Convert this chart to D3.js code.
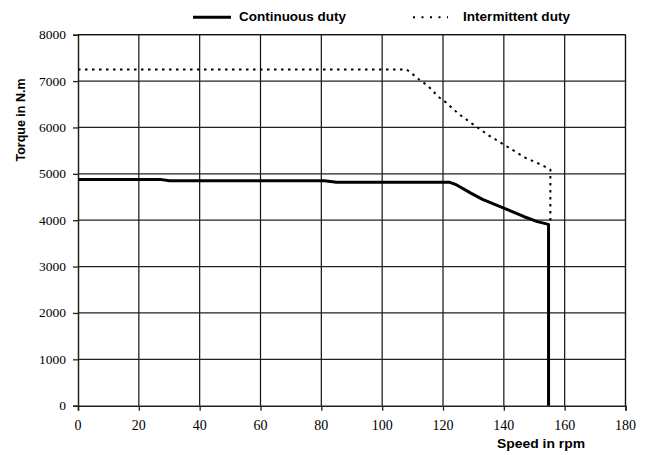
<!DOCTYPE html>
<html><head><meta charset="utf-8">
<script src="https://cdn.jsdelivr.net/npm/d3@7/dist/d3.min.js"></script>
<style>body{margin:0;background:#fff}svg{display:block}</style>
</head><body>
<svg id="c" width="648" height="455"></svg>
<script>
// Data
const xTicks = [0,20,40,60,80,100,120,140,160,180];
const yTicks = [0,1000,2000,3000,4000,5000,6000,7000,8000];
const continuousSpeed  = [0,27,30,81,85,122,124.5,129,133,140,146.5,151,154.7,154.7];
const continuousTorque = [4880,4880,4850,4850,4820,4820,4760,4590,4450,4260,4080,3970,3910,0];
const intermittentSpeed  = [0,108,110,112,115,118.5,121,125,130,135,140,142,147,152.5,155.3,155.3];
const intermittentTorque = [7250,7250,7150,7040,6900,6660,6540,6300,6060,5830,5630,5550,5350,5190,5090,3900];
const seriesNames = ["Continuous duty","Intermittent duty"];

const svg = d3.select("#c");
const L=78, R=625.5, T=34.7, B=405.7;
const x = d3.scaleLinear().domain([0,180]).range([L,R]);
const y = d3.scaleLinear().domain([0,8000]).range([B,T]);
const serif = "Liberation Serif";

// grid
svg.append("g").selectAll("line").data(xTicks.slice(1)).join("line")
  .attr("x1",d=>x(d)).attr("x2",d=>x(d)).attr("y1",T).attr("y2",B)
  .attr("stroke","#111").attr("stroke-width",1.2);
svg.append("g").selectAll("line").data(yTicks.slice(1)).join("line")
  .attr("x1",L).attr("x2",R).attr("y1",d=>y(d)).attr("y2",d=>y(d))
  .attr("stroke","#222").attr("stroke-width",1.3);

// axes (ticks + domain), labels drawn separately
const xAxis = svg.append("g").attr("transform",`translate(0,${B})`)
  .call(d3.axisBottom(x).tickValues(xTicks).tickSize(5).tickFormat(""));
const yAxis = svg.append("g").attr("transform",`translate(${L},0)`)
  .call(d3.axisLeft(y).tickValues(yTicks).tickSize(5).tickFormat(""));
[xAxis,yAxis].forEach(a=>{
  a.select(".domain").attr("stroke","#222").attr("stroke-width",1.5);
  a.selectAll(".tick line").attr("stroke","#222").attr("stroke-width",1.3);
});
svg.append("g").selectAll("text").data(xTicks).join("text")
  .attr("x",d=>x(d)).attr("y",430).attr("text-anchor","middle")
  .attr("font-family",serif).attr("font-size",14).attr("fill","#000")
  .text(d=>d3.format("d")(d));
svg.append("g").selectAll("text").data(yTicks).join("text")
  .attr("x",66).attr("y",d=>y(d)+4.5).attr("text-anchor","end")
  .attr("font-family",serif).attr("font-size",13.5).attr("fill","#000")
  .text(d=>d3.format("d")(d));

// right and top borders
svg.append("line").attr("x1",x(180)).attr("x2",x(180)).attr("y1",T).attr("y2",B).attr("stroke","#111").attr("stroke-width",1.2);
svg.append("line").attr("x1",L).attr("x2",R).attr("y1",T).attr("y2",T).attr("stroke","#111").attr("stroke-width",1.3);

// lines
const lineLin = d3.line().x(d=>x(d[0])).y(d=>y(d[1]));
const cont = continuousSpeed.map((s,i)=>[s,continuousTorque[i]]);
const inter = intermittentSpeed.map((s,i)=>[s,intermittentTorque[i]]);
svg.append("path").attr("d",lineLin(inter)).attr("fill","none").attr("stroke","#000")
  .attr("stroke-width",2).attr("stroke-dasharray","2.5,4.5");
svg.append("path").attr("d",lineLin(cont)).attr("fill","none").attr("stroke","#000")
  .attr("stroke-width",3).attr("stroke-linejoin","round");

// legend
const lf = "Liberation Sans";
svg.append("line").attr("x1",193).attr("x2",231).attr("y1",17.3).attr("y2",17.3).attr("stroke","#000").attr("stroke-width",3);
svg.append("text").attr("x",239).attr("y",21).text(seriesNames[0])
  .attr("font-family",lf).attr("font-weight","bold").attr("font-size",12.5).attr("textLength",107).attr("lengthAdjust","spacingAndGlyphs");
svg.append("line").attr("x1",413).attr("x2",448).attr("y1",17.3).attr("y2",17.3).attr("stroke","#000").attr("stroke-width",2).attr("stroke-dasharray","2,6.5");
svg.append("text").attr("x",463).attr("y",21).text(seriesNames[1])
  .attr("font-family",lf).attr("font-weight","bold").attr("font-size",12.5).attr("textLength",107).attr("lengthAdjust","spacingAndGlyphs");

// axis titles
svg.append("text").attr("x",497).attr("y",448).text("Speed in rpm")
  .attr("font-family",lf).attr("font-weight","bold").attr("font-size",12.5).attr("textLength",88).attr("lengthAdjust","spacingAndGlyphs");
svg.append("text").attr("transform","translate(25,120) rotate(-90)").attr("text-anchor","middle").text("Torque in N.m")
  .attr("font-family",lf).attr("font-weight","bold").attr("font-size",12.5);
</script>
</body></html>
